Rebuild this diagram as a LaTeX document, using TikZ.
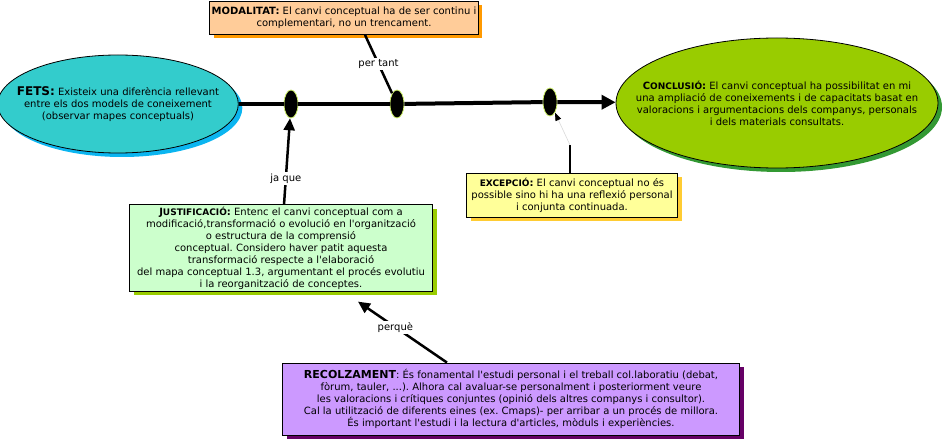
\documentclass[tikz,border=0pt]{standalone}
\usepackage{fontspec}
\setmainfont{DejaVu Sans}
\usetikzlibrary{shapes.geometric,shadows,arrows.meta}
\definecolor{fetsfill}{HTML}{33CCCC}
\definecolor{fetsshadow}{HTML}{0BB5F0}
\definecolor{conclfill}{HTML}{99CC00}
\definecolor{conclshadow}{HTML}{339933}
\definecolor{modfill}{HTML}{FFCC99}
\definecolor{modshadow}{HTML}{FF9900}
\definecolor{excfill}{HTML}{FFFF99}
\definecolor{excshadow}{HTML}{FFCC33}
\definecolor{justfill}{HTML}{CCFFCC}
\definecolor{justshadow}{HTML}{99CC00}
\definecolor{recfill}{HTML}{CC99FF}
\definecolor{recshadow}{HTML}{660066}
\definecolor{dotrim}{HTML}{CCEE66}
\newcommand\ap{\textquotesingle}
\frenchspacing

\begin{document}
\begin{tikzpicture}[x=1pt,y=-1pt,
					line width=2.5pt,
					font=\fontsize{10}{12}\selectfont,
					concept/.style={rectangle,draw,line width=0.8pt,align=center,inner sep=2pt},
					oval node/.style={ellipse,draw,line width=0.8pt,align=center,inner ysep=0pt},
					dot node/.style={ellipse,fill=black,draw=dotrim,line width=0.8pt,minimum width=14pt,minimum height=28pt,inner sep=0pt},
					shade/.style={drop shadow={shadow xshift=4pt,shadow yshift=-4pt,opacity=1,fill=#1}},
					lbl/.style={fill=white,inner sep=1.5pt},
					tip/.style={-{Triangle[length=12pt,width=11pt]}}]

  \useasboundingbox (0,0) rectangle (943,441);

  \node[oval node,fill=fetsfill,shade=fetsshadow,inner xsep=-16pt,minimum width=233pt,minimum height=98pt] (F) at (118,104)
    {\textbf{\large FETS:} Existeix una diferència rellevant\\entre els dos models de coneixement\\(observar mapes conceptuals)};
  \node[oval node,fill=conclfill,shade=conclshadow,inner xsep=-28pt,minimum width=322pt,minimum height=130pt] (C) at (777,103)
    {\textbf{C{\small ONCLUSIÓ}:} El canvi conceptual ha possibilitat en mi\\una ampliació de coneixements i de capacitats basat en\\valoracions i argumentacions dels companys, personals\\i dels materials consultats.};
  \node[dot node] (d1) at (291,104) {};
  \node[dot node] (d2) at (397,104) {};
  \node[dot node] (d3) at (550,102) {};
  \node[concept,fill=modfill,shade=modshadow,minimum width=255pt,minimum height=33pt] (M) at (344,18)
    {\textbf{MODALITAT:} El canvi conceptual ha de ser continu i\\complementari, no un trencament.};
  \node[concept,fill=excfill,shade=excshadow,minimum width=211pt,minimum height=44pt] (E) at (572,195)
    {\textbf{{\small EXCEPCIÓ}:} El canvi conceptual no és\\possible sino hi ha una reflexió personal\\i conjunta continuada.};
  \node[concept,fill=justfill,shade=justshadow,minimum width=303pt,minimum height=83pt] (J) at (281,248)
    {\textbf{J{\small USTIFICACIÓ}:} Entenc el canvi conceptual com a\\modificació,transformació o evolució en l\ap organització\\o estructura de la comprensió\\conceptual. Considero haver patit aquesta\\transformació respecte a l\ap elaboració\\del mapa conceptual 1.3, argumentant el procés evolutiu\\i la reorganització de conceptes.};
  \node[concept,fill=recfill,shade=recshadow,minimum width=457pt,minimum height=72pt] (R) at (511,399)
    {\textbf{\fontsize{11}{12}\selectfont RECOLZAMENT}: És fonamental l\ap estudi personal i el treball col.laboratiu (debat,\\fòrum, tauler, ...). Alhora cal avaluar-se personalment i posteriorment veure\\les valoracions i crítiques conjuntes (opinió dels altres companys i consultor).\\Cal la utilització de diferents eines (ex. Cmaps)- per arribar a un procés de millora.\\És important l\ap estudi i la lectura d\ap articles, mòduls i experiències.};
  \coordinate (e1) at (570,145);

  \path[line width=4pt]
    (F) edge (d1)
    (d1) edge (d2)
    (d2) edge (d3)
    (d3) edge[-{Triangle[length=14pt,width=14pt]}] (C);
  \path
    ([xshift=21pt]M.south) edge node[lbl] {per tant} (d2)
    (J) edge[tip] node[lbl,pos=.3] {ja que} (d1)
    ([xshift=-64pt]R.north) edge[tip] node[lbl,pos=.58] {perquè} ([xshift=77pt,yshift=-10pt]J.south)
    (E.north -| e1) edge (e1)
    (e1) edge[line width=0.6pt,black!15,-{Triangle[length=8pt,width=6pt,color=black]}] (d3);
\end{tikzpicture}
\end{document}
